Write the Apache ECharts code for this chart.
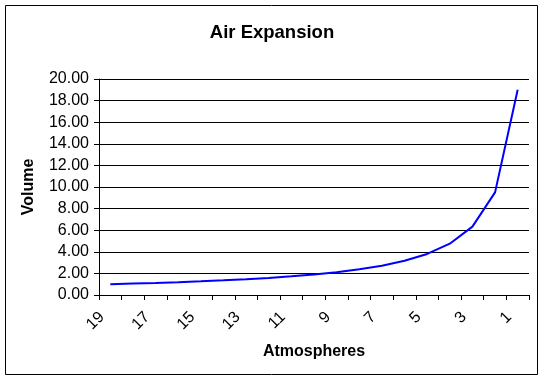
<!DOCTYPE html>
<html><head><meta charset="utf-8">
<script src="https://cdn.jsdelivr.net/npm/echarts@6/dist/echarts.min.js"></script>
<style>html,body{margin:0;padding:0;background:#fff}#c{width:544px;height:382px}</style>
</head><body><div id="c"></div>
<script>
const atmospheres = ['19','18','17','16','15','14','13','12','11','10','9','8','7','6','5','4','3','2','1'];
const volume = [1.00,1.06,1.12,1.19,1.27,1.36,1.46,1.58,1.73,1.90,2.11,2.38,2.71,3.17,3.80,4.75,6.33,9.50,19.00];
const yTicks = {min:0, max:20, interval:2};
const font = 'Liberation Sans, Arial, sans-serif';
const chart = echarts.init(document.getElementById('c'), null, {renderer:'canvas'});
chart.setOption({
  animation:false,
  backgroundColor:'#fff',
  title:{text:'Air Expansion', left:'center', top:18, textStyle:{fontFamily:font, fontSize:18.5, fontWeight:'bold', color:'#000'}},
  graphic:[{type:'rect', shape:{x:5.5,y:5.5,width:532,height:369}, style:{fill:'none', stroke:'#000', lineWidth:1}, silent:true}],
  grid:{left:99, right:15, top:79, bottom:87, containLabel:false},
  xAxis:{type:'category', data:atmospheres, boundaryGap:true,
    name:'Atmospheres', nameLocation:'middle', nameGap:49,
    nameTextStyle:{fontFamily:font, fontSize:16, fontWeight:'bold', color:'#000'},
    axisLine:{lineStyle:{color:'#000', width:1}},
    axisTick:{show:true, interval:0, length:5, lineStyle:{color:'#000'}},
    axisLabel:{interval:1, rotate:45, margin:11, padding:[0,12,0,0], fontFamily:font, fontSize:16, color:'#000'},
    splitLine:{show:false}},
  yAxis:{type:'value', min:yTicks.min, max:yTicks.max, interval:yTicks.interval,
    name:'Volume', nameLocation:'middle', nameGap:62, nameRotate:90,
    nameTextStyle:{fontFamily:font, fontSize:16, fontWeight:'bold', color:'#000'},
    axisLine:{show:true, lineStyle:{color:'#000', width:1}},
    axisTick:{show:true, length:5, lineStyle:{color:'#000'}},
    axisLabel:{margin:10, fontFamily:font, fontSize:16, color:'#000', formatter:v=>v.toFixed(2)},
    splitLine:{show:true, lineStyle:{color:'#000', width:1}}},
  series:[{type:'line', data:volume, symbol:'none', lineStyle:{color:'#0000FF', width:2}, itemStyle:{color:'#0000FF'}}]
});
</script></body></html>
